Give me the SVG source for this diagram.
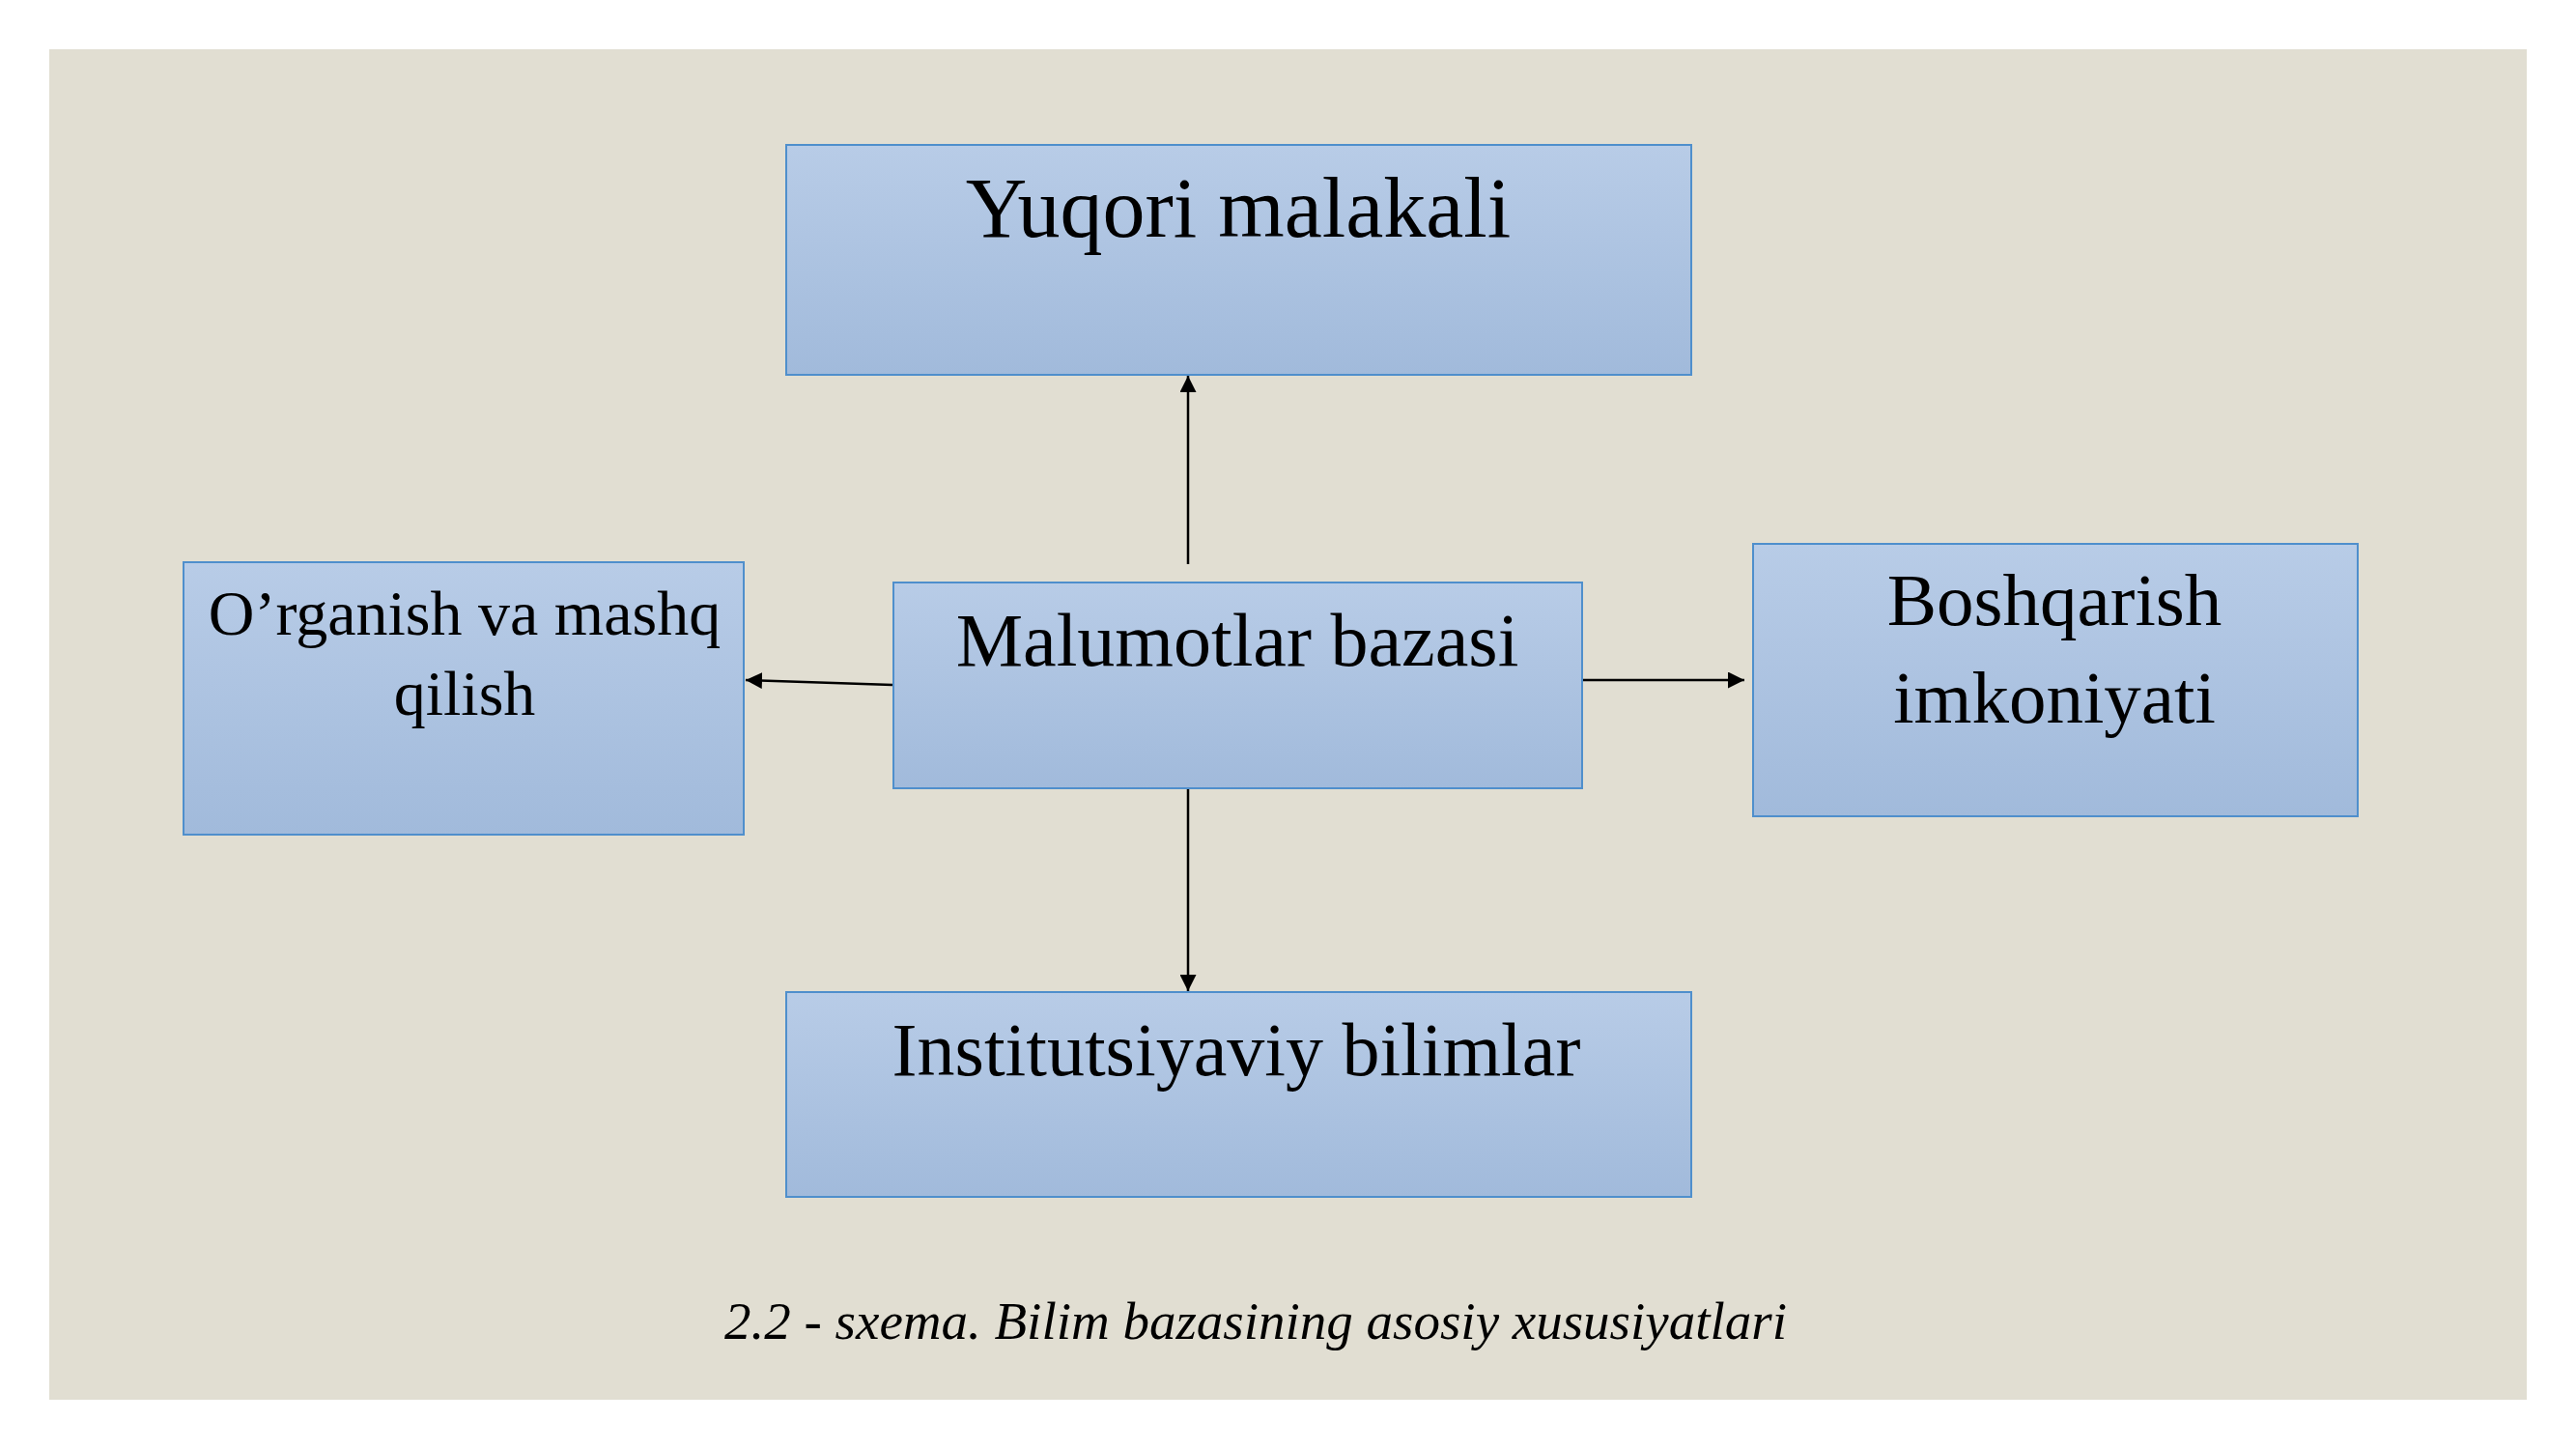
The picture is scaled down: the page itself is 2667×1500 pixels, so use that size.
<svg xmlns="http://www.w3.org/2000/svg" width="2667" height="1500" viewBox="0 0 2667 1500">
<style>
.box{fill:url(#g);stroke:#4F8FCC;stroke-width:2}
.t{font-family:"Liberation Serif","Times New Roman",serif;fill:#000;text-anchor:middle}
.c{stroke:#000;stroke-width:2.5;fill:none;marker-end:url(#ah)}
</style>
<defs>
<linearGradient id="g" x1="0" y1="0" x2="0" y2="1">
<stop offset="0" stop-color="#B8CCE7"/>
<stop offset="1" stop-color="#A1BADB"/>
</linearGradient>
<marker id="ah" viewBox="0 0 10 10" refX="10" refY="5" markerWidth="17" markerHeight="17" markerUnits="userSpaceOnUse" orient="auto">
<path d="M0,0 L10,5 L0,10 z" fill="#000"/>
</marker>
</defs>
<rect x="0" y="0" width="2667" height="1500" fill="#FFFFFF"/>
<rect x="51" y="51" width="2565" height="1398" fill="#E1DED2"/>
<g id="connectors">
<line class="c" x1="1230" y1="584" x2="1230" y2="389"/>
<line class="c" x1="1230" y1="816" x2="1230" y2="1026"/>
<line class="c" x1="1639" y1="704" x2="1806" y2="704"/>
<line class="c" x1="924" y1="709" x2="772" y2="704"/>
</g>
<g id="node-yuqori">
<rect class="box" x="814" y="150" width="937" height="238"/>
<text class="t" x="1282" y="245" font-size="88">Yuqori malakali</text>
</g>
<g id="node-malumotlar">
<rect class="box" x="925" y="603" width="713" height="213"/>
<text class="t" x="1281" y="689" font-size="78">Malumotlar bazasi</text>
</g>
<g id="node-organish">
<rect class="box" x="190" y="582" width="580" height="282"/>
<text class="t" x="481" y="657" font-size="66">O’rganish va mashq</text>
<text class="t" x="481" y="740" font-size="66">qilish</text>
</g>
<g id="node-boshqarish">
<rect class="box" x="1815" y="563" width="626" height="282"/>
<text class="t" x="2127" y="647" font-size="77">Boshqarish</text>
<text class="t" x="2127" y="748" font-size="77">imkoniyati</text>
</g>
<g id="node-institutsiyaviy">
<rect class="box" x="814" y="1027" width="937" height="212"/>
<text class="t" x="1280" y="1113" font-size="78">Institutsiyaviy bilimlar</text>
</g>
<text class="t" x="1300" y="1386" font-size="55" font-style="italic">2.2 - sxema. Bilim bazasining asosiy xususiyatlari</text>
</svg>
